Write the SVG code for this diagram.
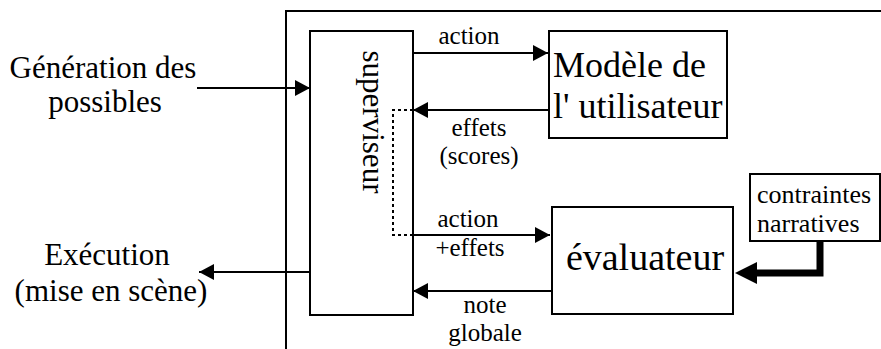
<svg xmlns="http://www.w3.org/2000/svg" width="881" height="349" viewBox="0 0 881 349" font-family="'Liberation Serif', 'Times New Roman', serif">
<defs>
<style>
.box{fill:#fff;stroke:#000;stroke-width:2}
.ln{fill:none;stroke:#000;stroke-width:2}
.dot{fill:none;stroke:#000;stroke-width:2;stroke-dasharray:3 3}
.thick{fill:none;stroke:#000;stroke-width:7;stroke-linejoin:miter}
text{font-family:"Liberation Serif","Times New Roman",serif;fill:#000}
.lbl{font-family:"Liberation Serif",serif;font-size:25px;text-anchor:middle}
.big{font-family:"Liberation Serif",serif;font-size:31px;text-anchor:middle}
.node{font-family:"Liberation Serif",serif;font-size:36px}
.small{font-family:"Liberation Serif",serif;font-size:26px}
</style>
<marker id="ah" viewBox="0 0 15 16" refX="15" refY="8" markerWidth="15" markerHeight="16" markerUnits="userSpaceOnUse" orient="auto">
<path d="M0,0 L15,8 L0,16 Z" fill="#000"/>
</marker>
</defs>
<rect width="881" height="349" fill="#fff"/>
<g id="frame">
<path class="ln" d="M286,349 V11 H882"/>
</g>
<g id="superviseur">
<rect class="box" x="310" y="31" width="103" height="284"/>
<text class="big" transform="translate(363,122) rotate(90)">superviseur</text>
</g>
<g id="modele">
<rect class="box" x="549" y="31" width="178" height="107"/>
<text class="node" x="553" y="77">Modèle de</text>
<text class="node" x="553" y="118">l' utilisateur</text>
</g>
<g id="evaluateur">
<rect class="box" x="552" y="207" width="181" height="107"/>
<text class="node" x="645" y="270" style="font-size:38px;text-anchor:middle">évaluateur</text>
</g>
<g id="contraintes">
<rect class="box" x="750" y="174" width="130" height="67"/>
<text class="small" x="757" y="203">contraintes</text>
<text class="small" x="757" y="232">narratives</text>
</g>
<g id="generation">
<text class="big" x="103" y="78">Génération des</text>
<text class="big" x="105" y="112">possibles</text>
</g>
<g id="execution">
<text class="big" x="107" y="265">Exécution</text>
<text class="big" x="111" y="301">(mise en scène)</text>
</g>
<g id="connectors">
<line class="ln" x1="197" y1="88" x2="310" y2="88" marker-end="url(#ah)"/>
<line class="ln" x1="310" y1="272" x2="199" y2="272" marker-end="url(#ah)"/>
<line class="ln" x1="413" y1="53" x2="548" y2="53" marker-end="url(#ah)"/>
<line class="ln" x1="549" y1="110" x2="413" y2="110" marker-end="url(#ah)"/>
<polyline class="dot" points="413,110 393,110 393,235 413,235"/>
<line class="ln" x1="413" y1="235" x2="550" y2="235" marker-end="url(#ah)"/>
<line class="ln" x1="552" y1="291" x2="413" y2="291" marker-end="url(#ah)"/>
<polyline class="thick" points="820,241 820,273 755,273"/>
<polygon points="735,273 757,262 757,284" fill="#000"/>
<text class="lbl" x="469" y="44">action</text>
<text class="lbl" x="479" y="136">effets</text>
<text class="lbl" x="479" y="164">(scores)</text>
<text class="lbl" x="468" y="227">action</text>
<text class="lbl" x="470" y="256">+effets</text>
<text class="lbl" x="485" y="313">note</text>
<text class="lbl" x="485" y="341">globale</text>
</g>
</svg>
